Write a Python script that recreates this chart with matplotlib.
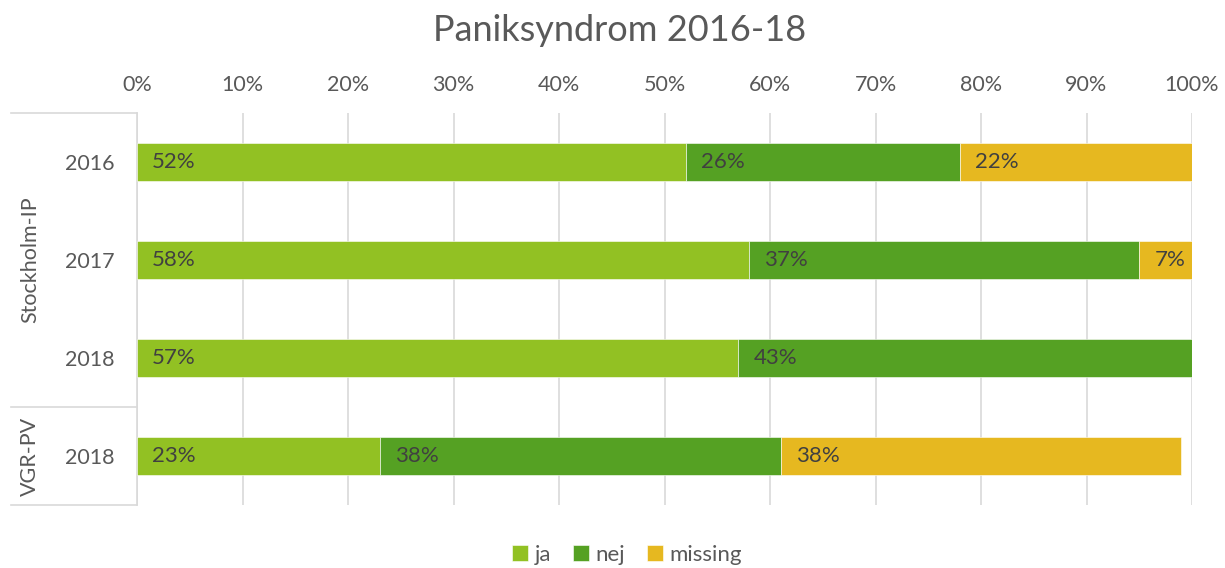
import numpy as np
from matplotlib import pyplot as plt

plt.rcParams['font.family'] = ['Lato', 'DejaVu Sans']

years = ["2016", "2017", "2018", "2018"]
groups = ["Stockholm-IP", "VGR-PV"]
group_sizes = [3, 1]
series = ["ja", "nej", "missing"]
ja = [52, 58, 57, 23]
nej = [26, 37, 43, 38]
missing = [22, 7, 0, 38]
colors = ["#92C123", "#55A123", "#E6B820"]
text_col = "#404040"

fig = plt.figure(figsize=(12.25, 5.68), dpi=100)
ax = fig.add_axes([137 / 1225, 63 / 568, 1055 / 1225, 392 / 568])

y = np.arange(len(years))
left = np.zeros(len(years))
for name, vals, c in zip(series, [ja, nej, missing], colors):
    vals = np.array(vals, dtype=float)
    ax.barh(y, vals, left=left, height=0.39, color=c, label=name,
            edgecolor="white", linewidth=0.4, zorder=3)
    for yi, l, v in zip(y, left, vals):
        if v > 0:
            ax.annotate(f"{v:.0f}%", (l, yi), xytext=(11, 0), textcoords="offset points",
                        ha="left", va="center", fontsize=16, color=text_col, zorder=4)
    left += vals

ax.set_xlim(0, 100)
ax.set_ylim(3.5, -0.5)
ax.xaxis.tick_top()
ax.set_xticks(np.arange(0, 101, 10))
ax.set_xticklabels([f"{t}%" for t in range(0, 101, 10)])
ax.set_yticks(y)
ax.set_yticklabels(years)
ax.tick_params(axis="x", length=0, pad=13, labelsize=15.5, labelcolor="#595959")
ax.tick_params(axis="y", length=0, pad=16, labelsize=15.5, labelcolor="#595959")
ax.grid(axis="x", color="#D9D9D9", linewidth=1.2, zorder=0)
for s in ["top", "right", "bottom"]:
    ax.spines[s].set_visible(False)
ax.spines["left"].set_color("#D9D9D9")
ax.spines["left"].set_linewidth(1.2)

# grouped category axis on the left
tr = ax.get_yaxis_transform()
x0 = (11 - 137) / 1055
bounds = [-0.5]
for n in group_sizes:
    bounds.append(bounds[-1] + n)
for b in bounds:
    ax.plot([x0, 0], [b, b], transform=tr, color="#D9D9D9", linewidth=1.2, clip_on=False)
for g, a, b in zip(groups, bounds[:-1], bounds[1:]):
    ax.text((30 - 137) / 1055, (a + b) / 2, g, transform=tr, rotation=90,
            ha="center", va="center", fontsize=15.5, color="#595959")

fig.suptitle("Paniksyndrom 2016-18", x=0.506, y=0.947, va="center", fontsize=26, color="#595959")

fig.legend(loc="center", bbox_to_anchor=(0.512, 0.023), ncol=3, frameon=False,
           fontsize=16, labelcolor="#595959", handlelength=0.7, handleheight=0.7,
           handletextpad=0.3, columnspacing=1.0)

fig.savefig("out.png", dpi=100)
